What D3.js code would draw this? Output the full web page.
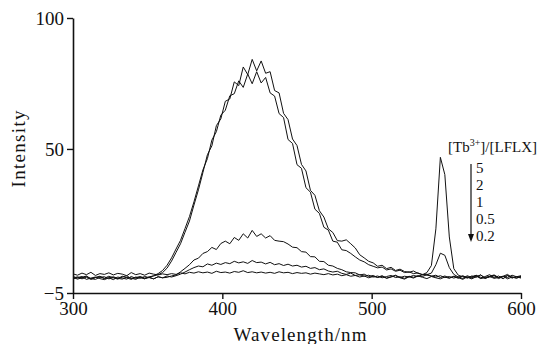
<!DOCTYPE html>
<html>
<head>
<meta charset="utf-8">
<script src="https://cdn.jsdelivr.net/npm/d3@7/dist/d3.min.js"></script>
<style>
  html, body { margin: 0; padding: 0; background: #fff; }
  svg { display: block; }
  text { font-family: "Liberation Serif", "Times New Roman", serif; fill: #111; }
</style>
</head>
<body>
<svg id="chart" width="541" height="344"></svg>
<script>
// Wavelength grid (nm), 300..600 step 3
const wavelengths = d3.range(300, 601, 3);

// Ratio labels [Tb3+]/[LFLX]
const ratios = ["5", "2", "1", "0.5", "0.2"];

// Intensity series
const s5 = [2.3,1.8,2.6,2.0,2.9,1.7,2.4,2.1,2.7,1.9,2.5,2.2,1.6,2.8,2.0,2.4,1.8,2.6,2.2,1.9,2.3,
  2.0,2.4,2.1,2.7,2.3,2.9,2.6,3.1,2.7,3.0,2.5,3.3,2.8,3.0,2.6,3.2,2.9,3.5,2.8,3.1,2.7,3.0,2.6,2.9,2.5,3.1,2.7,2.9,2.4,2.8,2.5,2.7,2.2,2.6,2.3,2.0,2.4,1.9,2.2,1.6,2.0,1.4,
  1.7,1.1,1.5,0.8,1.3,1.0,1.6,0.7,1.2,1.8,0.9,1.4,1.1,1.7,1.3,2.0,2.8,
  5.5,19.5,46.8,40.2,16.4,4.3,
  1.8,1.2,0.7,1.5,1.0,1.9,0.6,1.3,1.7,0.9,1.4,2.1,0.8,1.2,1.6];

const s2 = [1.3,0.7,1.0,1.5,0.4,0.9,1.2,0.6,1.4,0.8,0.3,1.1,1.6,0.5,0.9,1.3,0.7,1.0,0.4,1.2,0.8,1.5,1.1,
  1.6,2.2,3.0,3.9,4.7,5.3,5.0,6.1,5.6,6.4,5.9,6.6,6.2,7.1,6.5,6.9,6.3,7.4,6.6,6.8,6.1,6.7,5.8,6.2,5.5,6.0,5.3,5.6,4.9,5.2,4.4,4.7,3.9,4.2,3.4,3.0,3.3,2.5,2.1,2.6,1.7,2.0,1.4,
  1.8,1.1,1.5,0.8,1.3,1.7,0.9,1.2,0.6,1.4,1.0,1.6,1.3,2.0,
  2.6,5.8,10.2,9.4,4.7,2.1,
  1.1,1.5,0.8,1.3,1.7,1.0,0.6,1.4,1.9,0.9,1.2,1.6,0.7,1.3,1.0];

const s1 = [0.4,0.9,1.3,0.2,0.7,1.1,0.5,0.1,0.8,1.2,0.6,0.3,1.0,0.7,0.2,1.1,0.5,0.9,0.4,1.2,0.8,
  1.0,1.5,1.9,3.1,4.4,5.8,7.6,8.3,10.1,10.8,12.4,11.6,13.9,14.8,13.8,16.2,15.1,17.6,16.0,18.9,16.6,17.6,16.0,16.9,15.1,14.8,14.6,13.7,12.5,12.3,10.8,10.6,8.9,8.8,7.1,7.0,5.6,5.3,4.4,3.9,3.1,2.8,2.7,1.9,2.2,1.3,1.7,
  0.9,1.4,0.6,1.1,1.6,0.8,0.3,1.2,0.7,1.5,1.0,0.5,1.3,0.8,0.4,1.1,0.6,1.4,0.9,0.2,1.2,0.7,1.5,0.5,1.0,1.3,0.6,0.9,1.4,0.4,1.1,0.8,1.2];

const s05 = [1.0,0.3,0.8,1.3,0.5,0.2,1.0,1.2,0.4,0.9,0.5,1.4,0.8,0.2,1.1,0.6,1.3,0.9,1.6,
  2.4,3.6,5.6,8.4,11.8,15.1,19.6,24.2,29.8,35.9,42.0,46.3,53.4,56.6,62.9,64.8,70.3,71.1,76.0,73.5,78.6,74.9,79.5,75.2,77.3,71.4,70.2,63.5,62.0,53.6,52.1,44.0,42.6,35.2,33.5,27.0,25.4,20.1,19.0,14.8,14.4,11.5,11.2,10.1,8.8,7.6,6.9,5.8,5.2,4.6,4.9,3.8,4.2,3.3,3.7,2.8,3.1,2.4,2.7,1.9,2.2,1.4,1.8,0.9,1.5,0.8,1.3,
  0.6,1.5,1.0,0.4,1.2,1.9,0.7,1.1,1.6,0.5,1.3,0.9,1.8,1.2,0.7];

const s02 = [0.6,1.2,0.4,1.0,0.2,0.9,1.4,0.5,0.8,0.1,1.1,0.7,0.3,1.3,0.6,0.9,0.4,1.2,1.5,
  2.0,2.8,4.5,7.2,10.5,13.8,18.2,22.5,28.6,34.4,41.0,47.8,51.2,58.9,61.5,68.2,69.1,75.6,74.2,81.3,78.4,84.2,79.8,83.6,78.9,79.5,72.3,71.4,63.6,61.2,53.8,51.3,44.1,41.6,34.2,32.3,26.4,24.0,19.5,18.1,15.0,14.8,15.3,13.8,12.2,9.6,8.4,7.1,6.5,5.2,5.6,4.3,4.8,3.6,4.1,3.2,2.9,3.4,2.5,2.1,1.8,1.5,1.1,1.6,0.9,1.3,0.7,
  1.2,0.5,1.6,0.9,1.8,0.6,1.3,2.0,0.8,1.5,0.4,1.7,1.1,0.6,1.4];

const seriesList = [s5, s2, s1, s05, s02];

const xTicks = [300, 400, 500, 600];
const yTicks = [-5, 50, 100];

const svg = d3.select("#chart");
const x = d3.scaleLinear().domain([300, 600]).range([73, 521]);
const y = d3.scaleLinear().domain([-5, 100]).range([293, 18]);

// Lines
const line = d3.line().x((d, i) => x(wavelengths[i])).y(d => y(d));
svg.append("g").selectAll("path").data(seriesList).join("path")
  .attr("d", d => line(d))
  .attr("fill", "none").attr("stroke", "#111").attr("stroke-width", 1)
  .attr("stroke-linejoin", "round");

// Axes
const fmt = d => d < 0 ? "\u2212" + Math.abs(d) : String(d);
const xAxis = svg.append("g").attr("transform", `translate(0,${y(-5)})`)
  .call(d3.axisBottom(x).tickValues(xTicks).tickSize(6).tickPadding(3).tickSizeOuter(0).tickFormat(fmt));
const yAxis = svg.append("g").attr("transform", `translate(${x(300)},0)`)
  .call(d3.axisLeft(y).tickValues(yTicks).tickSize(6).tickPadding(3).tickSizeOuter(0).tickFormat(fmt));
[xAxis, yAxis].forEach(g => {
  g.attr("font-family", null).attr("font-size", null);
  g.select(".domain").attr("stroke", "#111").attr("stroke-width", 1.6);
  g.selectAll(".tick line").attr("stroke", "#111").attr("stroke-width", 1.4);
  g.selectAll(".tick text").style("font-family", "'Liberation Serif', serif").style("font-size", "19px").attr("fill", "#111");
});

// Axis titles
svg.append("text").attr("x", 300).attr("y", 341).attr("text-anchor", "middle")
  .attr("font-size", 19).attr("textLength", 133).attr("lengthAdjust", "spacing")
  .text("Wavelength/nm");
svg.append("text").attr("transform", "translate(25,149) rotate(-90)").attr("text-anchor", "middle")
  .attr("font-size", 19).attr("textLength", 77).attr("lengthAdjust", "spacing")
  .text("Intensity");

// Legend title
const lt = svg.append("text").attr("x", 448).attr("y", 152).attr("font-size", 15);
lt.append("tspan").text("[Tb");
lt.append("tspan").attr("dy", -6).attr("font-size", 10).text("3+");
lt.append("tspan").attr("dy", 6).text("]/[LFLX]");

// Legend ratio labels
svg.append("g").selectAll("text").data(ratios).join("text")
  .attr("x", 476).attr("y", (d, i) => 173 + i * 17).attr("font-size", 15).text(d => d);

// Arrow
svg.append("line").attr("x1", 471).attr("x2", 471).attr("y1", 164).attr("y2", 236)
  .attr("stroke", "#111").attr("stroke-width", 1.2);
svg.append("path").attr("d", "M468,234 L474,234 L471,242 Z").attr("fill", "#111");
</script>
</body>
</html>
